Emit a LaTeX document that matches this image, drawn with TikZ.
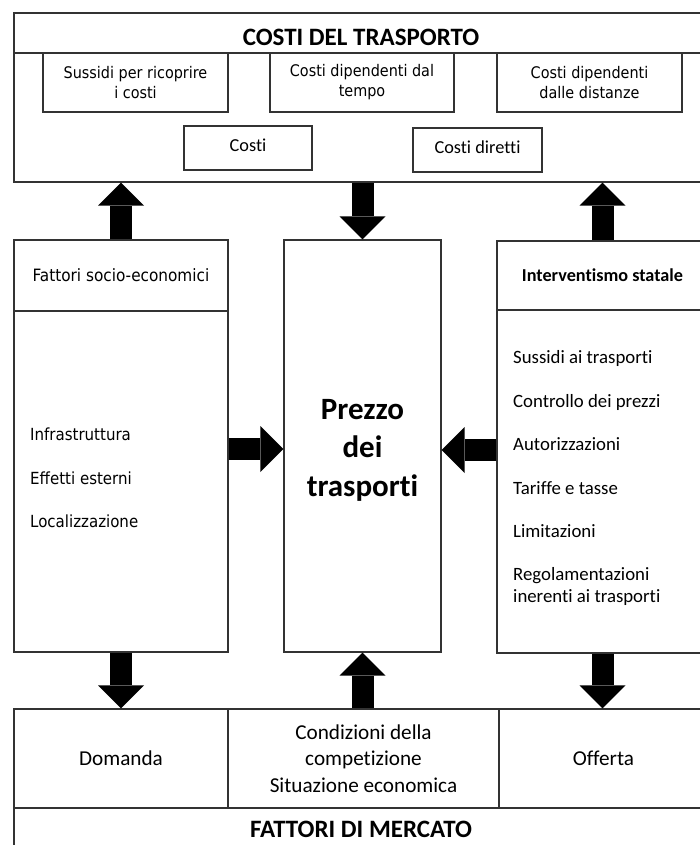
\documentclass[tikz,border=0pt]{standalone}
\usepackage{fontspec}
\setmainfont{Carlito}[Ligatures=NoCommon]
\newfontfamily\tah{DejaVu Sans Condensed}
\usetikzlibrary{arrows.meta}
\begin{document}
\begin{tikzpicture}[x=1pt,y=-1pt,
  bx/.style={draw=black!80, line width=1.2pt, inner sep=0pt, align=center},
  lbl/.style={inner sep=0pt, text height=0.7em, text depth=0.2em, anchor=west},
  blk/.style={line width=22pt, draw=black, -{Triangle[width=46pt,length=23pt,line width=0pt]}},
  tfont/.style={font=\fontsize{25}{30}\selectfont\bfseries},
  sfont/.style={font=\tah\fontsize{16}{20}\selectfont},
  cfont/.style={font=\fontsize{18.3}{22}\selectfont},
  lfont/.style={font=\tah\fontsize{16.7}{20}\selectfont},
  rfont/.style={font=\fontsize{18.8}{22}\selectfont},
  bfont/.style={font=\fontsize{21.2}{26.5}\selectfont}]
\path[use as bounding box] (0,0) rectangle (700,845);
\clip (0,0) rectangle (700,845);
% top block
\node[bx, minimum width=694pt, minimum height=169pt] (top) at (361,97.5) {};
\node[bx, minimum width=694pt, minimum height=40pt] (tophead) at (361,33) {};
\node[tfont, inner sep=0pt] (toptitle) at (361,37) {COSTI DEL TRASPORTO};
\node[bx, sfont, minimum width=185pt, minimum height=59pt] (sb1) at (135.5,82.5) {Sussidi per ricoprire\\i costi};
\node[bx, sfont, minimum width=184pt, minimum height=59pt] (sb2) at (362,82.5) {Costi dipendenti dal\\tempo};
\node[bx, sfont, minimum width=185pt, minimum height=59pt] (sb3) at (589.5,82.5) {Costi dipendenti\\dalle distanze};
\node[bx, cfont, minimum width=128pt, minimum height=44pt] (costi) at (248,148) {};
\node[cfont, inner sep=0pt] (costit) at (248,145) {Costi};
\node[bx, cfont, minimum width=129pt, minimum height=44pt] (diretti) at (477.5,150) {};
\node[cfont, inner sep=0pt] (direttit) at (477.5,147) {Costi diretti};
% left panel
\node[bx, minimum width=214pt, minimum height=412pt] (lp) at (121,446) {};
\node[bx, font=\tah\fontsize{17}{20}\selectfont, minimum width=214pt, minimum height=71pt] (lph) at (121,275.5) {Fattori socio-economici};
\node[lbl, lfont] (l1) at (30,438) {Infrastruttura};
\node[lbl, lfont] (l2) at (30,482) {Effetti esterni};
\node[lbl, lfont] (l3) at (30,525) {Localizzazione};
% centre
\node[bx, minimum width=157pt, minimum height=412pt] (cb) at (362.5,446) {};
\node[align=center, inner sep=0pt, font=\fontsize{31}{38.5}\selectfont\bfseries] (prezzo) at (362.5,450) {Prezzo\\dei\\trasporti};
% right panel
\node[bx, minimum width=211pt, minimum height=412pt] (rp) at (602.5,447) {};
\node[bx, font=\fontsize{18.2}{22}\selectfont\bfseries, minimum width=211pt, minimum height=69pt] (rph) at (602.5,275.5) {Interventismo statale};
\node[lbl, rfont] (r1) at (513,361) {Sussidi ai trasporti};
\node[lbl, rfont] (r2) at (513,405) {Controllo dei prezzi};
\node[lbl, rfont] (r3) at (513,448) {Autorizzazioni};
\node[lbl, rfont] (r4) at (513,492) {Tariffe e tasse};
\node[lbl, rfont] (r5) at (513,535) {Limitazioni};
\node[lbl, rfont] (r6) at (513,578) {Regolamentazioni};
\node[lbl, rfont] (r7) at (513,600) {inerenti ai trasporti};
% bottom block
\node[bx, minimum width=694pt, minimum height=141pt] (bot) at (361,779.5) {};
\node[bx, bfont, minimum width=214pt, minimum height=99pt] (dom) at (121,758.5) {Domanda};
\node[bx, bfont, minimum width=271pt, minimum height=99pt] (comp) at (363.5,758.5) {Condizioni della\\competizione\\Situazione economica};
\node[bx, bfont, minimum width=209pt, minimum height=99pt] (off) at (603.5,758.5) {Offerta};
\node[bx, tfont, minimum width=694pt, minimum height=42pt] (bottitle) at (361,829) {FATTORI DI MERCATO};
% block arrows
\draw[blk] (lp.north) -- (lp.north |- top.south);
\draw[blk] (top.south -| cb.north) -- (cb.north);
\draw[blk] (rp.north) -- (rp.north |- top.south);
\draw[blk] ([yshift=-3pt]lp.east) -- ([yshift=-3pt]lp.east -| cb.west);
\draw[blk] ([yshift=-3pt]rp.west) -- ([yshift=-3pt]rp.west -| cb.east);
\draw[blk] (lp.south) -- (lp.south |- bot.north);
\draw[blk] (bot.north -| cb.south) -- (cb.south);
\draw[blk] (rp.south) -- (rp.south |- bot.north);
\end{tikzpicture}
\end{document}
